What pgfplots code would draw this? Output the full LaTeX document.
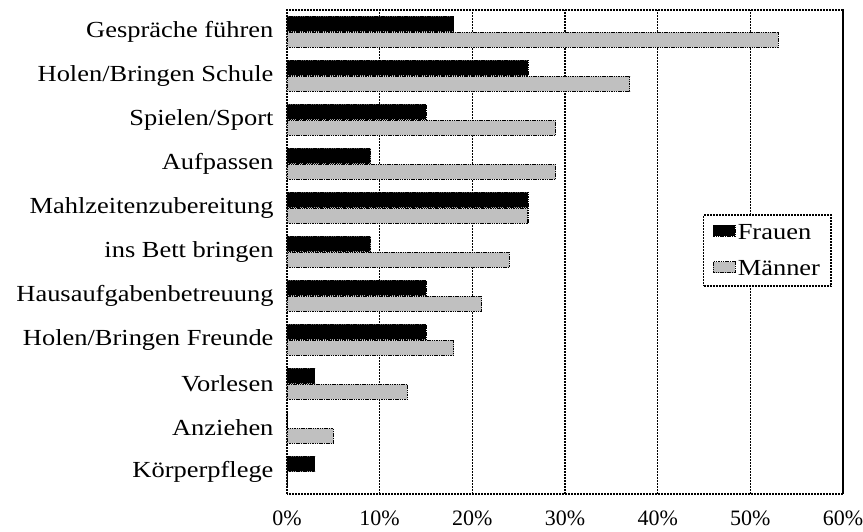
\documentclass[border=0pt]{standalone}
\usepackage{pgfplots}
\pgfplotsset{compat=1.18}
\usepackage{fontspec}
\setmainfont[FakeStretch=1.15]{Liberation Serif}
\newfontfamily\tickfont{Liberation Serif}
\definecolor{mgray}{RGB}{192,192,192}
\begin{document}
\begin{tikzpicture}
\path[use as bounding box] (-287pt,-38pt) rectangle (576pt,494pt);
\tikzset{dotline/.style={dash pattern=on 2pt off 1pt, line width=1.4pt}}
\begin{axis}[
  scale only axis,
  width=556pt, height=484pt,
  xbar, bar width=15pt,
  xmin=0, xmax=60,
  ymin=-0.5, ymax=10.5,
  xtick={0,10,20,30,40,50,60},
  xticklabels={0\%,10\%,20\%,30\%,40\%,50\%,60\%},
  ytick={0,1,2,3,4,5,6,7,8,9,10},
  yticklabels={Körperpflege,Anziehen,Vorlesen,Holen/Bringen Freunde,Hausaufgabenbetreuung,ins Bett bringen,Mahlzeitenzubereitung,Aufpassen,Spielen/Sport,Holen/Bringen Schule,Gespräche führen},
  major tick length=0pt,
  yticklabel style={font=\fontsize{23}{26}\selectfont, xshift=-10pt},
  xticklabel style={font=\tickfont\fontsize{22}{25}\selectfont, yshift=-13pt},
  xmajorgrids, grid style={black, dotline},
  axis line style={black, dotline},
  legend style={at={(0.748,0.578)}, anchor=north west, draw=black, dotline, font=\fontsize{23}{26}\selectfont, inner xsep=9pt, inner ysep=7pt, row sep=16pt, legend cell align=left},
  legend image code/.code={\draw[#1, line width=1.2pt, dash pattern=on 1.5pt off 0.8pt] (-2pt,-4pt) rectangle (20pt,7pt);},
]
\addplot[fill=black, draw=black, dash pattern=on 1.5pt off 0.8pt, line width=1.2pt, bar shift=8pt] coordinates {
 (3,0) (0,1) (3,2) (15,3) (15,4) (9,5) (26,6) (9,7) (15,8) (26,9) (18,10)};
\addlegendentry{Frauen}
\addplot[fill=mgray, draw=black, dash pattern=on 1.5pt off 0.8pt, line width=1.2pt, bar shift=-8pt] coordinates {
 (0,0) (5,1) (13,2) (18,3) (21,4) (24,5) (26,6) (29,7) (29,8) (37,9) (53,10)};
\addlegendentry{Männer}
\end{axis}
\end{tikzpicture}
\end{document}
